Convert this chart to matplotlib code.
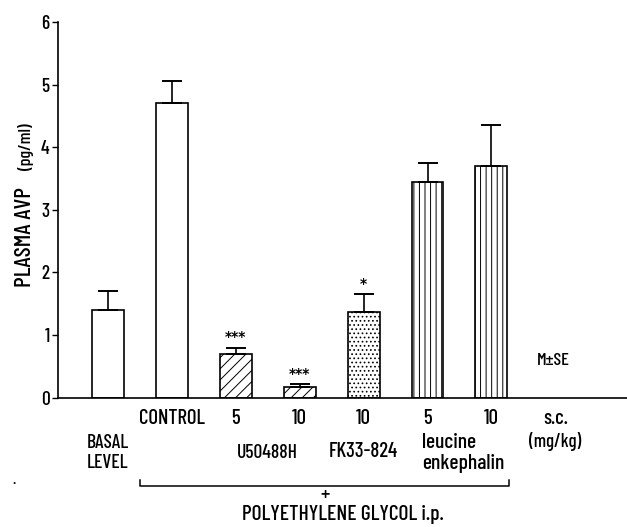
import matplotlib
matplotlib.use("Agg")
import matplotlib.pyplot as plt

plt.rcParams['font.family'] = ['Barlow Condensed', 'DejaVu Sans']
plt.rcParams['font.weight'] = 500
plt.rcParams['hatch.linewidth'] = 0.7

# Plasma AVP (pg/ml), mean and upper SE
groups = ["BASAL\nLEVEL", "CONTROL", "U50488H 5", "U50488H 10", "FK33-824 10",
          "leucine enkephalin 5", "leucine enkephalin 10"]
means = [1.40, 4.70, 0.70, 0.17, 1.36, 3.44, 3.70]
errors = [0.30, 0.35, 0.10, 0.04, 0.29, 0.31, 0.65]
hatches = ["", "", "///", "///", "....", "|||", "|||"]
stars = ["", "", "***", "***", "*", "", ""]

# First row of category labels under the axis
tick_labels = ["CONTROL", "5", "10", "10", "5", "10", "s.c."]
yticks = [0, 1, 2, 3, 4, 5, 6]

fig = plt.figure(figsize=(6.27, 5.27), dpi=100)
ax = fig.add_axes([58 / 627, 129.4 / 527, 1 - 58 / 627, (397.6 - 22) / 527])

x = list(range(len(means)))
ax.bar(x, means, width=0.5, color="white", edgecolor="black", linewidth=1.2,
       hatch=hatches, zorder=2)
ax.errorbar(x, means, yerr=[[0] * len(means), errors], fmt="none",
            ecolor="black", elinewidth=1.2, capsize=7.2, capthick=1.4, zorder=3)

for xi, m, e, s in zip(x, means, errors, stars):
    if s:
        ax.text(xi, m + e + 0.06, s, ha="center", va="bottom", fontsize=10,
                fontweight="bold", family="DejaVu Sans")

ax.set_xlim(-0.7825, 8.122)
ax.set_ylim(0, 6)
ax.set_yticks(yticks)
ax.set_yticklabels([str(v) for v in yticks], fontsize=14)
ax.tick_params(axis="y", length=4, width=1.0, pad=2)

ax.set_xticks([1, 2, 3, 4, 5, 6, 7])
ax.set_xticklabels(tick_labels, fontsize=15)
ax.tick_params(axis="x", length=0, pad=8)

for side in ("top", "right"):
    ax.spines[side].set_visible(False)
ax.spines["left"].set_linewidth(1.2)
ax.spines["bottom"].set_linewidth(1.2)

# Second row of labels
kw = dict(clip_on=False, ha="center", va="center")
ax.text(0, -0.725, "BASAL", fontsize=14, **kw)
ax.text(0, -1.045, "LEVEL", fontsize=14, **kw)
ax.text(2.5, -0.88, "U50488H", fontsize=14, **kw)
ax.text(4, -0.865, "FK33-824", fontsize=15, **kw)
ax.text(4.92, -0.725, "leucine", fontsize=15.5, clip_on=False, ha="left", va="center")
ax.text(4.92, -1.045, "enkephalin", fontsize=15.5, clip_on=False, ha="left", va="center")
ax.text(7, -0.70, "(mg/kg)", fontsize=13.5, **kw)

# Bracket for the polyethylene glycol groups
ax.plot([0.50, 0.50, 6.27, 6.27], [-1.32, -1.41, -1.41, -1.32], color="black",
        lw=1.1, clip_on=False)
ax.text(3.4, -1.57, "+", fontsize=15, **kw)
ax.text(3.67, -1.875, "POLYETHYLENE GLYCOL i.p.", fontsize=15.5, **kw)

ax.text(6.97, 0.6, "M\u00b1SE", fontsize=13, ha="center", va="center")

# Y axis title in two sizes
fig.text(25 / 627, 1 - 237 / 527, "PLASMA AVP", rotation=90, fontsize=17,
         ha="center", va="center")
fig.text(26 / 627, 1 - 146.5 / 527, "(pg/ml)", rotation=90, fontsize=13,
         ha="center", va="center")
fig.text(14 / 627, 1 - 487 / 527, ".", fontsize=11, ha="center", va="bottom")

fig.savefig("out.png", dpi=100)
